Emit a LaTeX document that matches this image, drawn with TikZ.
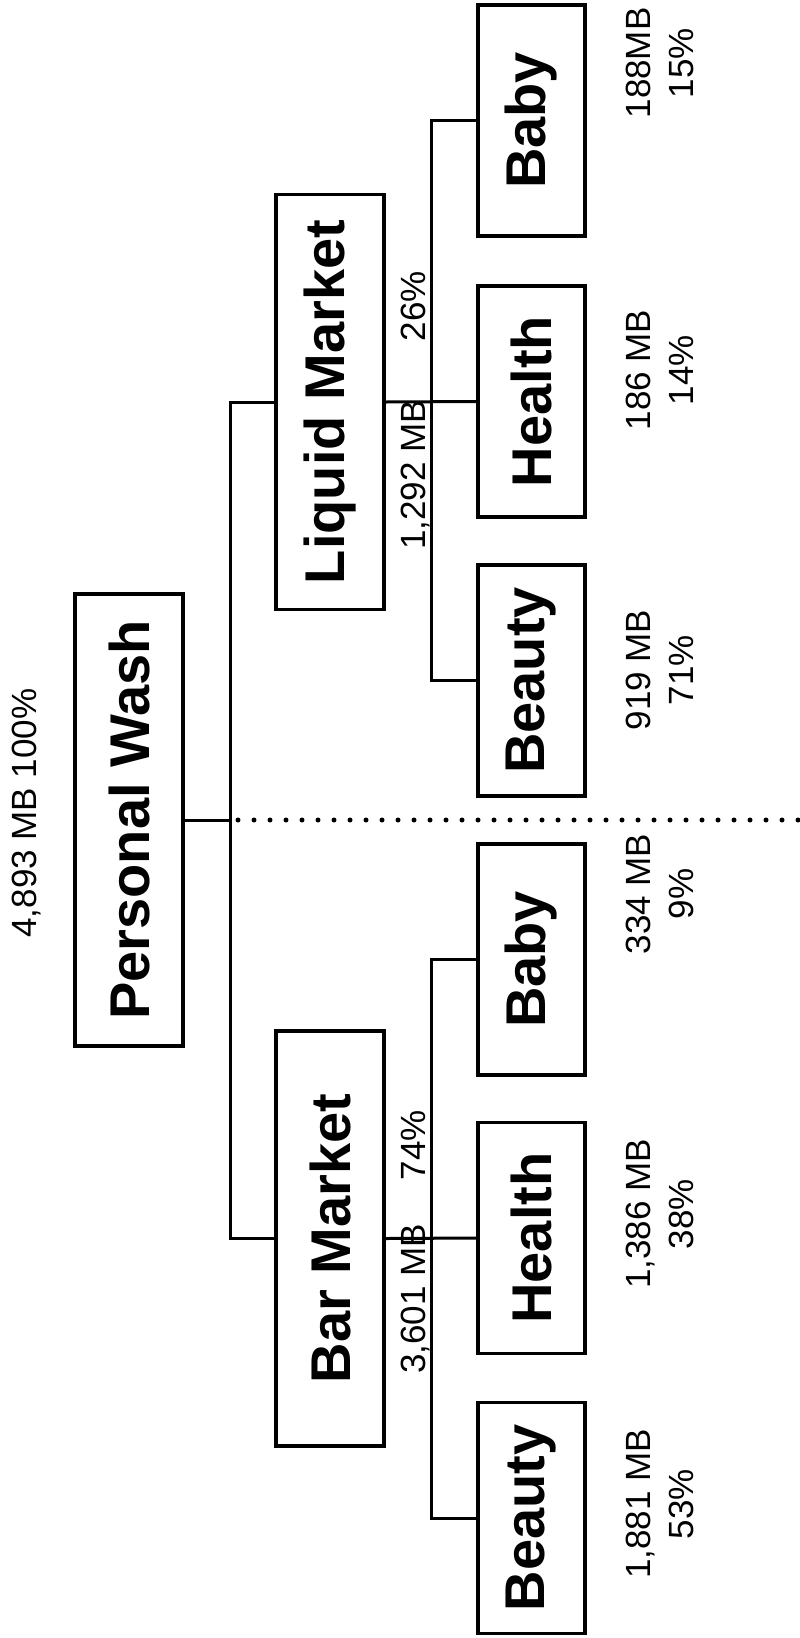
\documentclass[tikz,border=0pt]{standalone}
\usepackage{fontspec}
\setmainfont{Liberation Sans}
\begin{document}
\begin{tikzpicture}[x=1pt,y=-1pt,
  box/.style={draw, line width=3.5pt, rotate=90, inner sep=0pt, font=\fontsize{56}{60}\selectfont\bfseries},
  pbox/.style={box, minimum width=452pt, minimum height=108pt},
  mbox/.style={box, minimum width=415pt, minimum height=108pt},
  leaf/.style={box, minimum width=231pt, minimum height=107pt},
  conn/.style={line width=3pt},
  num/.style={rotate=90, inner sep=0pt, font=\fontsize{35}{43}\selectfont},
  num2/.style={num, align=center},
  dots/.style={line width=5pt, line cap=round, dash pattern=on 0pt off 16pt}]
\useasboundingbox (0,0) rectangle (800,1638);
% boxes
\node[pbox] (pw) at (129,820) {Personal Wash};
\node[mbox] (lm) at (330,402) {Liquid Market};
\node[mbox] (bm) at (330,1238.5) {Bar Market};
\node[leaf] (lba) at (531.5,120.5) {Baby};
\node[leaf] (lhe) at (531.5,401.5) {Health};
\node[leaf] (lbe) at (531.5,680.5) {Beauty};
\node[leaf] (bba) at (531.5,959.5) {Baby};
\node[leaf] (bhe) at (531.5,1238) {Health};
\node[leaf] (bbe) at (531.5,1518) {Beauty};
% junction coordinates
\coordinate (jx) at (230,820);
\coordinate (lv) at (431,402);
\coordinate (bv) at (431,1239);
\coordinate (dstart) at (238,820);
\coordinate (dend) at (800,820);
% connectors
\draw[conn] (pw.south) -- (jx);
\draw[conn] (lm.north) -| (jx) |- (bm.north);
\draw[conn] (lm.south) -- (lhe.north);
\draw[conn] (lba.north) -| (lv) |- (lbe.north);
\draw[conn] (bm.south) -- (bhe.north);
\draw[conn] (bba.north) -| (bv) |- (bbe.north);
\draw[dots] (dstart) -- (dend);
% labels
\node[num, anchor=base] (tot) at (36,813) {4,893 MB 100\%};
\node[num, anchor=base] (lmp) at (425,306) {26\%};
\node[num, anchor=base] (lmv) at (425,475) {1,292 MB};
\node[num, anchor=base] (bmp) at (425,1145) {74\%};
\node[num, anchor=base] (bmv) at (425,1299) {3,601 MB};
\node[num2] (l1) at (660,63) {188MB\\15\%};
\node[num2] (l2) at (660,370) {186 MB\\14\%};
\node[num2] (l3) at (660,670) {919 MB\\71\%};
\node[num2] (l4) at (660,894) {334 MB\\9\%};
\node[num2] (l5) at (660,1214) {1,386 MB\\38\%};
\node[num2] (l6) at (660,1504) {1,881 MB\\53\%};
\end{tikzpicture}
\end{document}
